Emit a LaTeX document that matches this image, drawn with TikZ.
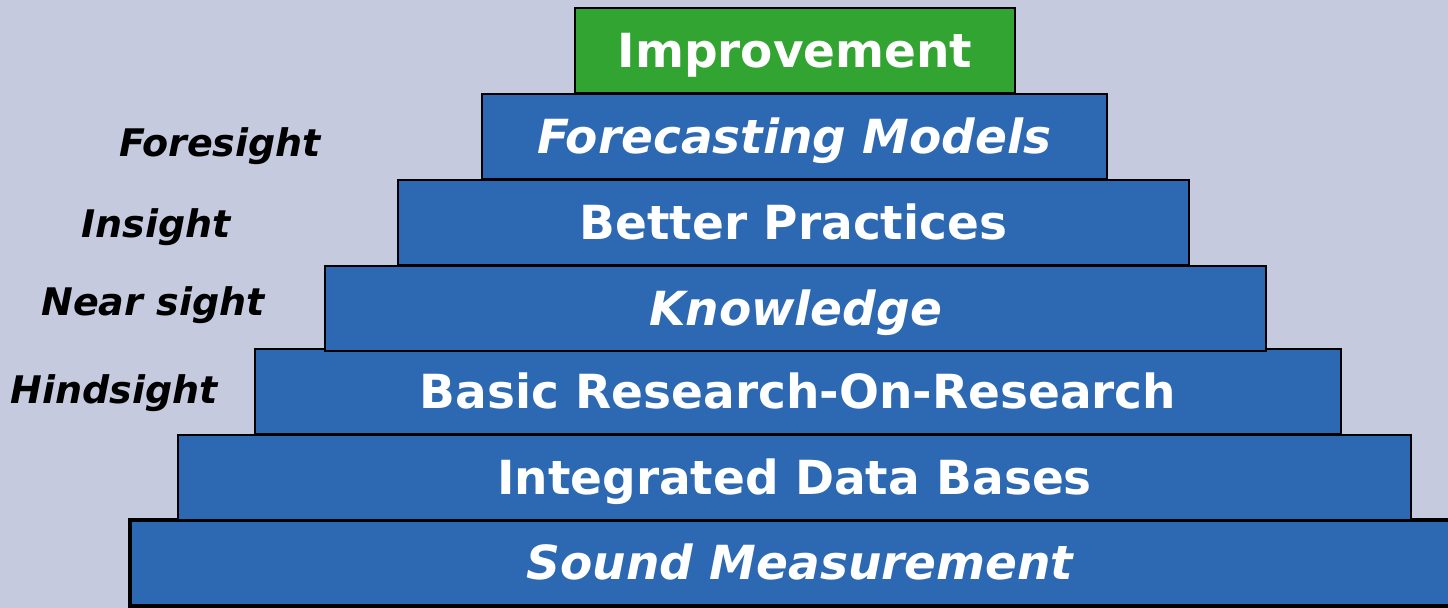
\documentclass[tikz,border=0pt]{standalone}
\usepackage{fontspec}
\setmainfont{DejaVu Sans}
\definecolor{pagebg}{HTML}{C6CADF}
\definecolor{stepblue}{HTML}{2D68B3}
\definecolor{topgreen}{HTML}{32A432}
\begin{document}
\begin{tikzpicture}[x=0.5pt, y=-0.5pt,
    stepbox/.style = {draw, thick, fill=stepblue, text=white, minimum height=42.5pt, inner sep=0pt, text height=17pt, text depth=0pt, font=\fontsize{23.5}{26}\selectfont\bfseries},
    sightlabel/.style = {font=\fontsize{19}{22}\selectfont\bfseries\itshape}]
    \fill[pagebg] (0,0) rectangle (1448,608);
    \useasboundingbox (0,0) rectangle (1448,608);
    % steps of the pyramid, bottom first
    \node[stepbox, line width=1.6pt, minimum width=670pt, minimum height=43pt] (sound) at (800,563) {\itshape Sound Measurement};
    \node[stepbox, minimum width=616.5pt] (integrated) at (794.5,477.5) {Integrated Data Bases};
    \node[stepbox, minimum width=543pt] (basic) at (798,391.5) {Basic Research-On-Research};
    \node[stepbox, minimum width=470.5pt] (knowledge) at (795.5,308.5) {\itshape Knowledge};
    \node[stepbox, minimum width=395.5pt] (practices) at (793.5,222.5) {Better Practices};
    \node[stepbox, minimum width=312.5pt] (forecasting) at (794.5,136.5) {\itshape Forecasting Models};
    \node[stepbox, fill=topgreen, minimum width=220pt] (improvement) at (795,50.5) {Improvement};
    % sight labels on the left
    \node[sightlabel] (foresight) at (220,146) {Foresight};
    \node[sightlabel] (insight) at (156,227) {Insight};
    \node[sightlabel] (nearsight) at (153,305) {Near sight};
    \node[sightlabel] (hindsight) at (114,393) {Hindsight};
\end{tikzpicture}
\end{document}
